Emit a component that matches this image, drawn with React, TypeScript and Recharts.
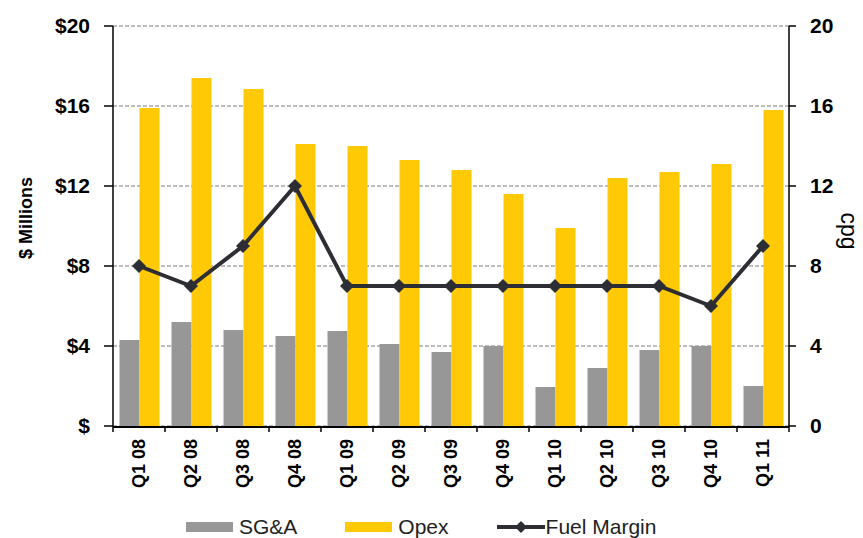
import React from "react";
import {
  ComposedChart,
  Bar,
  Line,
  XAxis,
  YAxis,
  CartesianGrid,
  Legend,
  Label,
} from "recharts";

// quarterly cost data ($ millions) and fuel margin (cents per gallon)
const quarters = [
  "Q1 08", "Q2 08", "Q3 08", "Q4 08",
  "Q1 09", "Q2 09", "Q3 09", "Q4 09",
  "Q1 10", "Q2 10", "Q3 10", "Q4 10",
  "Q1 11",
];
const sgaValues = [4.3, 5.2, 4.8, 4.5, 4.75, 4.1, 3.7, 4.0, 1.95, 2.9, 3.8, 4.0, 2.0];
const opexValues = [15.9, 17.4, 16.85, 14.1, 14.0, 13.3, 12.8, 11.6, 9.9, 12.4, 12.7, 13.1, 15.8];
const fuelMarginValues = [8, 7, 9, 12, 7, 7, 7, 7, 7, 7, 7, 6, 9];

const leftTicks = [0, 4, 8, 12, 16, 20];
const leftTickLabels = ["$", "$4", "$8", "$12", "$16", "$20"];
const rightTicks = [0, 4, 8, 12, 16, 20];
const rightTickLabels = ["0", "4", "8", "12", "16", "20"];
const legendOrder = ["SG&A", "Opex", "Fuel Margin"];

const data = quarters.map((q, i) => ({
  quarter: q,
  sga: sgaValues[i],
  opex: opexValues[i],
  fuel: fuelMarginValues[i],
}));

// tick marks sit on the category boundaries, not the centres
const boundaryTicks = [...quarters.map((_, i) => i), quarters.length];

const FONT = "'Liberation Sans', Arial, sans-serif";
const GREY = "#979797";
const YELLOW = "#FFCA05";
const LINE = "#2d2e34";

const Diamond = (props: any) => {
  const { cx, cy, index } = props;
  if (cx == null || cy == null) return null;
  const r = 7;
  return (
    <polygon
      key={`d-${index}`}
      points={`${cx},${cy - r} ${cx + r},${cy} ${cx},${cy + r} ${cx - r},${cy}`}
      fill={LINE}
    />
  );
};

const QuarterTick = (props: any) => {
  const { x, y, payload } = props;
  return (
    <text
      transform={`translate(${x},${y + 4}) rotate(-90)`}
      textAnchor="end"
      dominantBaseline="central"
      fontFamily={FONT}
      fontSize={18}
      fontWeight="bold"
      fill="#000"
    >
      {payload.value}
    </text>
  );
};

const renderLegend = (props: any) => {
  const payload = [...(props.payload || [])].sort(
    (a: any, b: any) => legendOrder.indexOf(a.value) - legendOrder.indexOf(b.value)
  );
  return (
    <div
      style={{
        display: "flex",
        alignItems: "center",
        height: 22,
        paddingLeft: 186,
        fontFamily: FONT,
        fontSize: 21,
        color: "#222",
      }}
    >
      {payload.map((entry: any, i: number) => (
        <div
          key={entry.value}
          style={{ display: "flex", alignItems: "center", marginRight: i < payload.length - 1 ? 48 : 0 }}
        >
          {entry.type === "line" ? (
            <svg width={48} height={14} style={{ marginRight: 1 }}>
              <line x1={0} y1={7} x2={48} y2={7} stroke={LINE} strokeWidth={4} />
              <polygon points="24,1 30,7 24,13 18,7" fill={LINE} />
            </svg>
          ) : (
            <div style={{ width: 47, height: 10, background: entry.color, marginRight: 6 }} />
          )}
          <span style={{ lineHeight: "22px" }}>{entry.value}</span>
        </div>
      ))}
    </div>
  );
};

export default function App() {
  return (
    <div style={{ position: "absolute", left: 0, top: 0, background: "#fff" }}>
      <ComposedChart
        width={863}
        height={538}
        data={data}
        margin={{ top: 26, right: 0, bottom: 0, left: 0 }}
        barCategoryGap="12.5%"
        barGap={0}
      >
        <CartesianGrid
          yAxisId="left"
          xAxisId="q"
          vertical={false}
          stroke="#7a7a7a"
          strokeDasharray="4 2"
        />
        <XAxis
          xAxisId={0}
          type="number"
          dataKey={() => 0}
          domain={[0, quarters.length]}
          ticks={boundaryTicks}
          interval={0}
          tickFormatter={() => ""}
          tick={{ fontSize: 1 }}
          tickSize={6}
          axisLine={false}
          tickLine={{ stroke: "#000", strokeWidth: 1.5 }}
          height={1}
        />
        <XAxis
          xAxisId="q"
          dataKey="quarter"
          height={89}
          interval={0}
          tick={<QuarterTick />}
          tickLine={false}
          axisLine={{ stroke: "#000", strokeWidth: 2 }}
        />
        <YAxis
          yAxisId="left"
          width={113}
          domain={[0, 20]}
          ticks={leftTicks}
          interval={0}
          tickFormatter={(_v: number, i: number) => leftTickLabels[i]}
          tick={{ fill: "#000", fontSize: 21, fontWeight: "bold", fontFamily: FONT }}
          tickSize={9}
          tickMargin={14}
          axisLine={{ stroke: "#000", strokeWidth: 1.5 }}
          tickLine={{ stroke: "#000", strokeWidth: 1.5 }}
        >
          <Label
            content={(p: any) => {
              const vb = p.viewBox;
              const cx = vb.x + 26;
              const cy = vb.y + vb.height / 2 - 8;
              return (
                <text
                  x={cx}
                  y={cy}
                  transform={`rotate(-90 ${cx} ${cy})`}
                  textAnchor="middle"
                  dominantBaseline="central"
                  fontFamily={FONT}
                  fontSize={18}
                  fontWeight="bold"
                  fill="#000"
                >
                  $ Millions
                </text>
              );
            }}
          />
        </YAxis>
        <YAxis
          yAxisId="right"
          orientation="right"
          width={74}
          domain={[0, 20]}
          ticks={rightTicks}
          interval={0}
          tickFormatter={(_v: number, i: number) => rightTickLabels[i]}
          tick={{ fill: "#000", fontSize: 21, fontWeight: "bold", fontFamily: FONT }}
          tickSize={7}
          tickMargin={14}
          axisLine={{ stroke: "#000", strokeWidth: 1.5 }}
          tickLine={{ stroke: "#000", strokeWidth: 1.5 }}
        >
          <Label
            content={(p: any) => {
              const vb = p.viewBox;
              const cx = vb.x + 60;
              const cy = vb.y + vb.height / 2 + 5;
              return (
                <text
                  x={cx}
                  y={cy}
                  transform={`rotate(90 ${cx} ${cy})`}
                  textAnchor="middle"
                  dominantBaseline="central"
                  fontFamily={FONT}
                  fontSize={23}
                  fill="#000"
                >
                  cpg
                </text>
              );
            }}
          />
        </YAxis>
        <Bar xAxisId="q" yAxisId="left" dataKey="sga" name="SG&A" fill={GREY} isAnimationActive={false} />
        <Bar xAxisId="q" yAxisId="left" dataKey="opex" name="Opex" fill={YELLOW} isAnimationActive={false} />
        <Line
          xAxisId="q"
          yAxisId="right"
          dataKey="fuel"
          name="Fuel Margin"
          type="linear"
          stroke={LINE}
          strokeWidth={4}
          dot={<Diamond />}
          activeDot={false}
          legendType="line"
          isAnimationActive={false}
        />
        <Legend
          verticalAlign="bottom"
          align="left"
          wrapperStyle={{ left: 0, width: 863, bottom: 0 }}
          content={renderLegend}
        />
      </ComposedChart>
    </div>
  );
}
